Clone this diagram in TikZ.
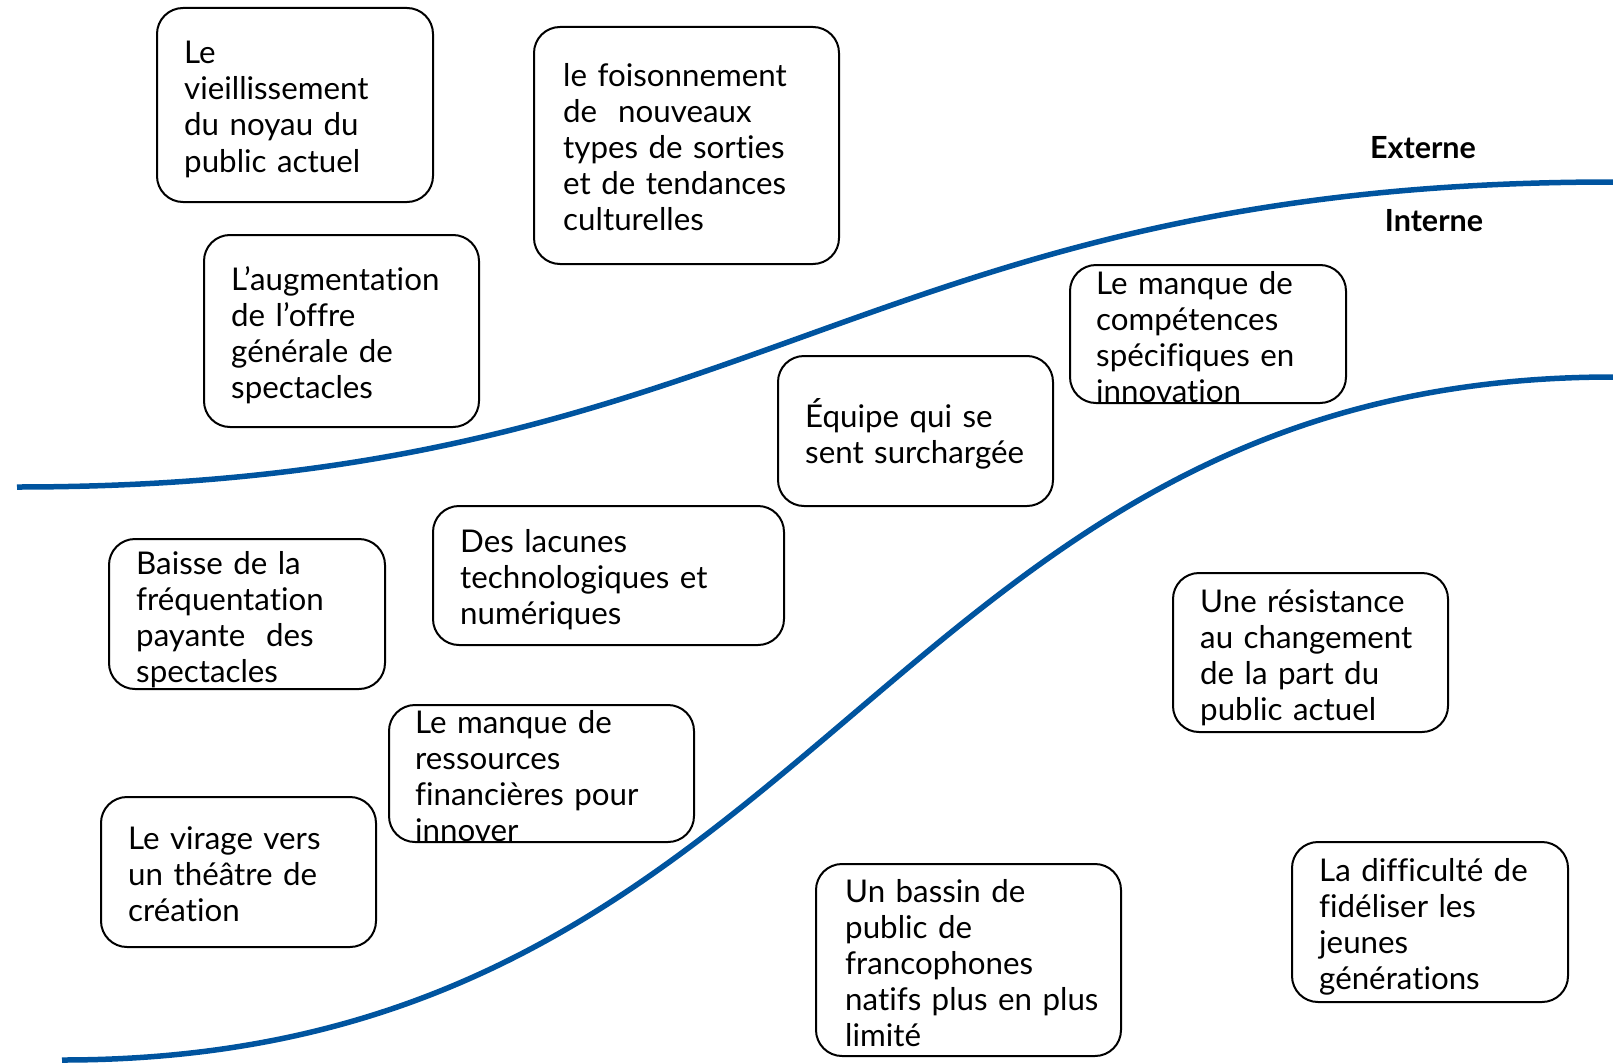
\documentclass[tikz,border=0pt]{standalone}
\usepackage{fontspec}
\setmainfont{Lato}[Ligatures=NoCommon]
\usepackage{xcolor}
\usepackage{tikz}
\usetikzlibrary{shapes,positioning}

\definecolor{lineblue}{RGB}{0,84,159}

\tikzset{
    card/.style={draw, line width=2pt, rounded corners=26pt, inner sep=0pt},
    cardtext/.style={anchor=base west, inner sep=0pt, text width=420pt, align=left,
        font=\fontsize{31.3}{36}\selectfont},
    frontier/.style={draw=lineblue, line width=5.5pt},
    zonelabel/.style={font=\fontsize{30.5}{36}\selectfont\bfseries}
}

\begin{document}
\begin{tikzpicture}[x=1pt, y=-1pt]
                \useasboundingbox (0,0) rectangle (1613,1062);

                % frontieres externe / interne
                \draw[frontier] (17,487) .. controls (757,487) and (857,182) .. (1613,182);
                \draw[frontier] (62,1060) .. controls (823,1060) and (880,377) .. (1613,377);

                \node[zonelabel] (externe) at (1423,148) {Externe};
                \node[zonelabel] (interne) at (1434,221) {Interne};

                % facteurs externes
                \node[card, minimum width=276pt, minimum height=194pt] (vieil) at (295,105) {};
                \node[cardtext, xshift=28pt, yshift=-57pt] (vieiltxt) at (vieil.north west)
                    {Le\\vieillissement\\du noyau du\\public actuel};

                \node[card, minimum width=305pt, minimum height=237pt] (foison) at (686.5,145.5) {};
                \node[cardtext, xshift=30pt, yshift=-61pt] (foisontxt) at (foison.north west)
                    {le foisonnement\\de\ \ nouveaux\\types de sorties\\et de tendances\\culturelles};

                \node[card, minimum width=275pt, minimum height=192pt] (offre) at (341.5,331) {};
                \node[cardtext, xshift=28pt, yshift=-56pt] (offretxt) at (offre.north west)
                    {L’augmentation\\de l’offre\\générale de\\spectacles};

                % facteurs internes
                \node[card, minimum width=276pt, minimum height=138pt] (compet) at (1208,334) {};
                \node[cardtext, xshift=27pt, yshift=-30pt] (compettxt) at (compet.north west)
                    {Le manque de\\compétences\\spécifiques en\\innovation};

                \node[card, minimum width=275pt, minimum height=150pt] (equipe) at (915.5,431) {};
                \node[cardtext, xshift=28pt, yshift=-72pt] (equipetxt) at (equipe.north west)
                    {Équipe qui se\\sent surchargée};

                \node[card, minimum width=351pt, minimum height=139pt] (lacunes) at (608.5,575.5) {};
                \node[cardtext, xshift=28pt, yshift=-47pt] (lacunestxt) at (lacunes.north west)
                    {Des lacunes\\technologiques et\\numériques};

                \node[card, minimum width=276pt, minimum height=150pt] (baisse) at (247,614) {};
                \node[cardtext, xshift=28pt, yshift=-36pt] (baissetxt) at (baisse.north west)
                    {Baisse de la\\fréquentation\\payante\ \ des\\spectacles};

                \node[card, minimum width=275pt, minimum height=159pt] (resist) at (1310.5,652.5) {};
                \node[cardtext, xshift=28pt, yshift=-40pt] (resisttxt) at (resist.north west)
                    {Une résistance\\au changement\\de la part du\\public actuel};

                \node[card, minimum width=305pt, minimum height=137pt] (ressour) at (541.5,773.5) {};
                \node[cardtext, xshift=27pt, yshift=-29pt] (ressourtxt) at (ressour.north west)
                    {Le manque de\\ressources\\financières pour\\innover};

                \node[card, minimum width=275pt, minimum height=150pt] (virage) at (238.5,872) {};
                \node[cardtext, xshift=28pt, yshift=-53pt] (viragetxt) at (virage.north west)
                    {Le virage vers\\un théâtre de\\création};

                \node[card, minimum width=305pt, minimum height=192pt] (bassin) at (968.5,960) {};
                \node[cardtext, xshift=30pt, yshift=-39pt] (bassintxt) at (bassin.north west)
                    {Un bassin de\\public de\\francophones\\natifs plus en plus\\limité};

                \node[card, minimum width=276pt, minimum height=160pt] (fidel) at (1430,922) {};
                \node[cardtext, xshift=28pt, yshift=-40pt] (fideltxt) at (fidel.north west)
                    {La difficulté de\\fidéliser les\\jeunes\\générations};

\end{tikzpicture}
\end{document}
